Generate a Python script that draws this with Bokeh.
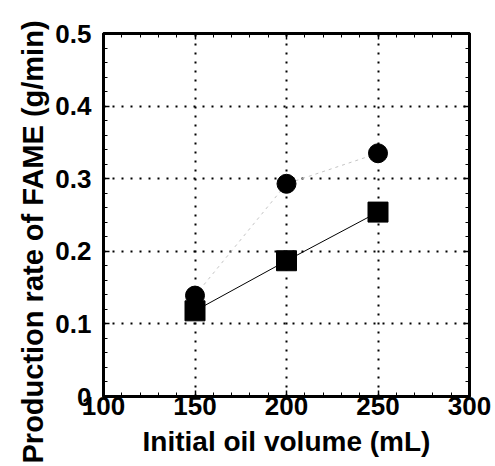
from bokeh.plotting import figure
from bokeh.models import LinearAxis, FixedTicker, Range1d, Title
from bokeh.embed import file_html
from bokeh.resources import INLINE

# data
oil_volume = [150, 200, 250]
rate_circle = [0.139, 0.293, 0.335]
rate_square = [0.118, 0.187, 0.254]

x_ticks = [100, 150, 200, 250, 300]
x_minor = list(range(100, 301, 10))
y_ticks = [0, 0.1, 0.2, 0.3, 0.4, 0.5]
y_minor = [i / 50 for i in range(0, 26)]
y_labels = {0: "0", 0.1: "0.1", 0.2: "0.2", 0.3: "0.3", 0.4: "0.4", 0.5: "0.5"}
x_title = "Initial oil volume (mL)"
y_title = "Production rate of FAME (g/min)"

FONT = "Liberation Sans"

p = figure(width=495, height=466, output_backend="svg", toolbar_location=None,
           x_range=Range1d(100, 300), y_range=Range1d(0, 0.5),
           min_border_left=103, min_border_right=26, min_border_top=33, min_border_bottom=70)
p.background_fill_color = "white"
p.border_fill_color = "white"
p.outline_line_color = "black"
p.outline_line_width = 3

def style_axis(ax, ticks, minor, show_labels=True):
    ax.ticker = FixedTicker(ticks=ticks, minor_ticks=minor)
    ax.axis_line_color = "black"
    ax.axis_line_width = 3
    ax.major_tick_in = 6
    ax.major_tick_out = 0
    ax.minor_tick_in = 4
    ax.minor_tick_out = 0
    ax.major_tick_line_width = 1.5
    ax.minor_tick_line_width = 1
    ax.major_tick_line_color = "black"
    ax.minor_tick_line_color = "black"
    ax.major_label_text_font = FONT
    ax.major_label_text_font_style = "bold"
    ax.major_label_text_color = "black"
    if not show_labels:
        ax.major_label_overrides = {t: "" for t in ticks}
        ax.major_label_standoff = 0

xa = p.xaxis[0]
style_axis(xa, x_ticks, x_minor)
xa.major_label_text_font_size = "26px"
xa.major_label_standoff = 0
xa.axis_label = x_title
xa.axis_label_text_font = FONT
xa.axis_label_text_font_style = "bold"
xa.axis_label_text_font_size = "28px"
xa.axis_label_text_color = "black"
xa.axis_label_standoff = 8

ya = p.yaxis[0]
style_axis(ya, y_ticks, y_minor)
ya.major_label_overrides = y_labels
ya.major_label_text_font_size = "26px"
ya.major_label_standoff = 12

ytitle = Title(text=y_title, align="left", offset=-67, standoff=8,
               text_font=FONT, text_font_style="bold", text_font_size="29px",
               text_color="black")
p.add_layout(ytitle, "left")

top = LinearAxis()
style_axis(top, x_ticks, x_minor, show_labels=False)
p.add_layout(top, "above")
right = LinearAxis()
style_axis(right, y_ticks, y_minor, show_labels=False)
p.add_layout(right, "right")

for g in (p.xgrid[0], p.ygrid[0]):
    g.grid_line_color = "black"
    g.grid_line_width = 2
    g.grid_line_dash = "2 7"
p.xgrid[0].ticker = FixedTicker(ticks=x_ticks[1:-1])
p.ygrid[0].ticker = FixedTicker(ticks=y_ticks[1:-1])

p.line(oil_volume, rate_circle, line_color="#c4c4c4", line_width=1, line_dash="3 4")
p.line(oil_volume, rate_square, line_color="black", line_width=1)
p.scatter(oil_volume, rate_circle, marker="circle", size=19, fill_color="black", line_color="black")
p.scatter(oil_volume, rate_square, marker="square", size=20, fill_color="black", line_color="black")

open("out.html", "w").write(file_html(p, INLINE))
